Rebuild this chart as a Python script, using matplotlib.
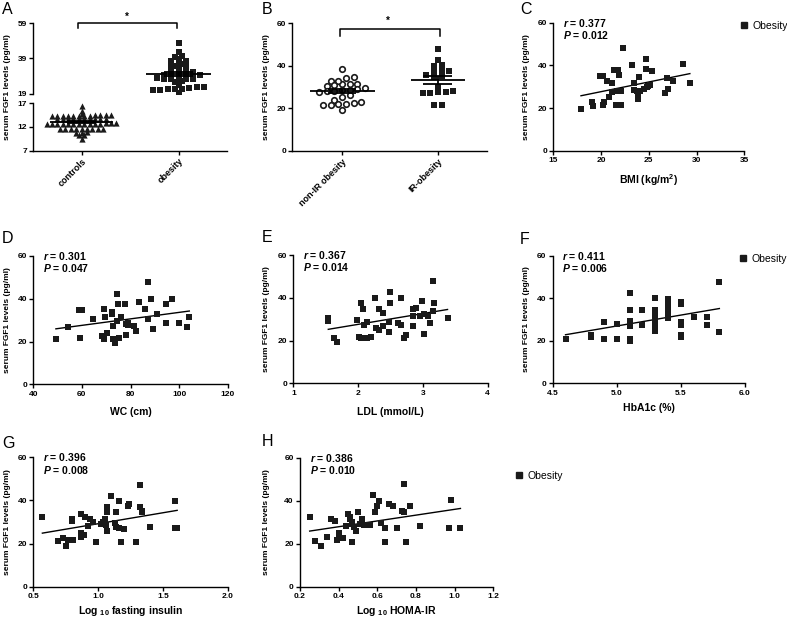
import numpy as np
import matplotlib
matplotlib.use('Agg')
import matplotlib.pyplot as plt
from matplotlib.lines import Line2D

plt.rcParams['font.family'] = 'Liberation Sans'
plt.rcParams['font.weight'] = 'bold'
plt.rcParams['axes.labelweight'] = 'bold'
plt.rcParams['mathtext.fontset'] = 'custom'
plt.rcParams['mathtext.rm'] = 'Liberation Sans:bold'
plt.rcParams['mathtext.it'] = 'Liberation Sans:italic:bold'
plt.rcParams['mathtext.bf'] = 'Liberation Sans:bold'

W, H = 787, 619

# ---- data ----
controls = [16.4, 15.4, 14.8,
            14.4, 14.5, 14.3, 14.4, 14.6, 14.3, 14.5, 14.3, 14.4, 14.5, 14.4, 14.3,
            13.6, 13.7, 13.6, 13.65, 13.6, 13.7, 13.6, 13.65, 13.6, 13.7,
            12.7, 12.6, 12.8, 12.7, 12.6, 12.7, 12.8, 12.6, 12.7, 12.6, 12.8, 12.7, 12.6, 12.7,
            11.6, 11.5, 11.6, 11.55, 11.6, 11.5, 11.6, 11.55, 11.6,
            10.8, 10.9, 10.7,
            10.2, 10.3,
            9.5]

non_ir = [38.6, 34.1, 32.8, 31.4, 31.4, 31.6, 32.8, 34.7, 30.8, 30.5, 28.9, 28.6, 28.1,
          28.1, 28.8, 29.4, 26.3, 27.5, 25.5, 23.9, 22.1, 21.6, 22.8, 21.9, 21.6, 22.7, 19.4]
ir = [48.0, 42.5, 40.3, 40.0, 37.7, 37.7, 37.7, 35.6, 34.7, 35.0, 29.9, 27.5, 27.4,
      27.1, 27.5, 28.1, 21.3, 21.3]
obesity = non_ir + ir

bmi_x = [17.9, 19.1, 19.2, 19.9, 20.2, 20.2, 20.3, 20.6, 21.1, 20.8, 21.1, 21.4, 21.8, 21.9,
         21.6, 21.8, 22.1, 21.7, 22.1, 22.3, 23.2, 23.4, 23.5, 23.8, 23.9, 23.9, 24.0, 24.1,
         24.5, 24.7, 24.7, 24.9, 24.8, 25.1, 25.3, 26.7, 27.0, 26.9, 27.5, 28.6, 29.3]
bmi_y = [19.4, 22.7, 21.1, 35.0, 35.0, 21.3, 23.0, 32.8, 31.6, 25.3, 27.7, 37.8, 37.8, 35.6,
         21.4, 21.4, 21.4, 28.1, 28.1, 48.0, 40.2, 31.6, 28.4, 28.0, 24.1, 26.9, 34.7, 28.1,
         28.8, 38.4, 42.8, 30.3, 29.7, 30.8, 37.5, 27.2, 28.8, 33.9, 32.8, 40.5, 31.9]

wc_x = [49.3, 54.1, 58.9, 59.9, 59.1, 64.7, 69.2, 69.5, 68.3, 69.2, 70.5, 72.2, 72.2, 72.7,
        72.7, 73.6, 74.6, 74.6, 75.0, 75.4, 75.9, 77.9, 78.1, 78.1, 78.8, 79.1, 81.4, 82.1,
        83.6, 85.8, 87.3, 87.3, 88.4, 89.1, 90.8, 94.5, 94.5, 96.9, 100.0, 103.4, 104.2]
wc_y = [21.2, 27.0, 34.7, 34.7, 21.8, 30.5, 35.2, 31.3, 22.4, 21.2, 23.8, 33.7, 32.7, 27.4,
        21.2, 19.2, 29.8, 42.2, 37.6, 21.8, 31.3, 37.4, 23.1, 28.2, 27.6, 28.5, 27.4, 25.1,
        38.3, 35.2, 47.7, 30.5, 39.9, 25.9, 32.9, 37.4, 28.5, 39.9, 28.5, 27.0, 31.6]

ldl_x = [1.54, 1.54, 1.63, 1.68, 1.99, 2.01, 2.04, 2.05, 2.08, 2.09, 2.13, 2.13, 2.20, 2.26,
         2.28, 2.32, 2.33, 2.38, 2.38, 2.49, 2.49, 2.48, 2.48, 2.66, 2.62, 2.66, 2.71, 2.74,
         2.84, 2.84, 2.85, 2.90, 2.95, 2.98, 3.01, 3.01, 3.08, 3.11, 3.15, 3.15, 3.17, 3.38]
ldl_y = [30.4, 29.3, 21.0, 19.2, 29.6, 21.5, 37.4, 21.0, 34.8, 27.3, 28.5, 21.0, 21.8, 40.1,
         26.0, 34.8, 24.9, 27.0, 32.7, 42.5, 37.4, 28.5, 23.9, 40.1, 28.1, 27.3, 21.0, 22.6,
         27.0, 34.8, 31.3, 35.4, 31.3, 38.5, 32.4, 22.9, 31.5, 28.1, 47.8, 33.8, 37.7, 30.4]

hba1c_x = [4.6, 4.8, 4.8, 4.9, 4.9, 5.0, 5.0, 5.1, 5.1, 5.1, 5.1, 5.1, 5.1, 5.1, 5.2, 5.2,
           5.3, 5.3, 5.3, 5.3, 5.3, 5.3, 5.3, 5.3, 5.3, 5.3, 5.4, 5.4, 5.4, 5.4, 5.4, 5.4,
           5.5, 5.5, 5.5, 5.5, 5.5, 5.5, 5.6, 5.7, 5.7, 5.8, 5.8]
hba1c_y = [20.8, 22.9, 21.8, 28.6, 21.0, 28.0, 21.0, 42.3, 34.7, 29.5, 28.5, 27.0, 21.0, 19.7,
           34.7, 27.3, 40.2, 34.7, 33.0, 31.6, 30.5, 29.4, 28.3, 27.3, 25.8, 24.8, 39.8, 37.5,
           36.0, 34.5, 32.0, 30.9, 38.3, 37.5, 28.6, 27.3, 22.6, 21.8, 31.4, 31.1, 27.3, 47.8, 24.0]

ins_x = [0.57, 0.69, 0.73, 0.75, 0.77, 0.80, 0.80, 0.81, 0.87, 0.87, 0.87, 0.89, 0.90, 0.92,
         0.94, 0.96, 0.98, 1.02, 1.04, 1.05, 1.06, 1.07, 1.07, 1.07, 1.10, 1.13, 1.14, 1.14,
         1.16, 1.16, 1.18, 1.20, 1.23, 1.24, 1.29, 1.32, 1.32, 1.34, 1.34, 1.40, 1.59, 1.59, 1.61]
ins_y = [32.5, 21.2, 22.7, 19.0, 21.7, 31.4, 30.5, 21.7, 33.6, 24.8, 22.9, 23.9, 32.5, 28.2,
         31.2, 30.2, 20.9, 29.1, 30.2, 31.4, 28.6, 34.5, 37.1, 25.8, 42.1, 29.4, 34.5, 27.8,
         39.7, 27.1, 20.9, 26.8, 37.4, 38.2, 20.9, 47.2, 37.1, 35.1, 34.5, 27.8, 39.7, 27.1, 27.1]

homa_x = [0.25, 0.28, 0.31, 0.34, 0.36, 0.38, 0.39, 0.40, 0.40, 0.41, 0.42, 0.44, 0.45, 0.46,
          0.46, 0.47, 0.47, 0.47, 0.48, 0.49, 0.50, 0.51, 0.52, 0.53, 0.56, 0.58, 0.59, 0.60,
          0.61, 0.62, 0.64, 0.64, 0.66, 0.68, 0.70, 0.73, 0.74, 0.74, 0.75, 0.77, 0.82, 0.98,
          0.97, 1.03]
homa_y = [32.6, 21.2, 19.1, 22.9, 31.5, 30.7, 21.7, 24.8, 23.6, 22.5, 22.8, 28.2, 33.6, 32.6,
          31.3, 30.2, 29.2, 20.9, 27.9, 26.1, 34.6, 29.2, 31.5, 28.7, 28.7, 42.6, 34.6, 37.5,
          40.0, 29.5, 27.5, 20.9, 38.3, 37.5, 27.1, 35.4, 34.9, 47.8, 20.9, 37.5, 28.2, 40.3,
          27.5, 27.5]

stats = {'C': ('0.377', '0.012'), 'D': ('0.301', '0.047'), 'E': ('0.367', '0.014'),
         'F': ('0.411', '0.006'), 'G': ('0.396', '0.008'), 'H': ('0.386', '0.010')}

INK = '#1a1a1a'
fig = plt.figure(figsize=(W / 100, H / 100), dpi=100)


def rect(l, r, t, b):
    return [l / W, 1 - b / H, (r - l) / W, (b - t) / H]


def style(ax):
    ax.spines['top'].set_visible(False)
    ax.spines['right'].set_visible(False)
    for s in ['left', 'bottom']:
        ax.spines[s].set_linewidth(1.0)
    ax.tick_params(direction='out', length=3, width=1, labelsize=6, pad=1.5)


def swarm(vals, w, dx):
    # rows of points side by side, like a scatter dot plot
    vals = np.asarray(vals, dtype=float)
    keys = np.round(vals / w).astype(int)
    offs = np.zeros(len(vals))
    for k in np.unique(keys):
        idx = np.where(keys == k)[0]
        idx = idx[np.argsort(vals[idx])]
        n = len(idx)
        offs[idx] = (np.arange(n) - (n - 1) / 2) * dx
    return offs


def mean_sem(ax, x0, vals, half=0.32, cap=0.15):
    v = np.asarray(vals)
    m = v.mean()
    se = v.std(ddof=1) / np.sqrt(len(v))
    ax.hlines(m, x0 - half, x0 + half, color='black', lw=1.3, zorder=4)
    ax.vlines(x0, m - se, m + se, color='black', lw=1.3, zorder=4)
    ax.hlines([m - se, m + se], x0 - cap, x0 + cap, color='black', lw=1.3, zorder=4)


def ylab(x, t, b):
    fig.text(x / W, 1 - (t + b) / 2 / H, 'serum FGF1 levels (pg/ml)', rotation=90,
             ha='center', va='center', fontsize=6)


def letter(x, y, s):
    fig.text(x / W, 1 - y / H, s, fontsize=11.5, fontweight='normal', ha='left', va='center')


def legend(ax, x, y):
    h = Line2D([], [], marker='s', ls='', color=INK, markersize=4.5)
    ax.legend([h], ['Obesity'], loc='center left', bbox_to_anchor=(x / W, 1 - y / H),
              bbox_transform=fig.transFigure, frameon=False, handletextpad=0.4,
              handlelength=0.8, borderpad=0, borderaxespad=0,
              prop={'size': 7.5, 'weight': 'normal'})


# ---- panel A (broken axis) ----
axA1 = fig.add_axes(rect(33, 227, 23.3, 93.7))
axA2 = fig.add_axes(rect(33, 227, 103.3, 150.5))
for ax in (axA1, axA2):
    style(ax)
    ax.set_xlim(-0.5, 1.5)
axA1.spines['bottom'].set_visible(False)
axA1.set_xticks([])
axA1.set_ylim(19, 59)
axA1.set_yticks([19, 39, 59])
axA2.set_ylim(7, 17)
axA2.set_yticks([7, 12, 17])
axA2.set_xticks([0, 1])
axA2.set_xticklabels(['controls', 'obesity'], rotation=45, ha='right', va='top',
                     rotation_mode='anchor', fontsize=6.5)

axA2.scatter(0 + swarm(controls, 0.6, 0.055), controls, marker='^', s=20, color=INK,
             lw=0, zorder=3)
axA1.scatter(1 + swarm(obesity, 1.7, 0.075), obesity, marker='s', s=22, color=INK,
             lw=0, zorder=3)
mean_sem(axA2, 0, controls)
mean_sem(axA1, 1, obesity, half=0.34)
axA1.plot([-0.04, -0.04, 0.98, 0.98], [56.2, 59, 59, 56.2], color='black', lw=1.1,
          clip_on=False)
axA1.text(0.47, 62.5, '*', ha='center', va='center', fontsize=7, clip_on=False)
ylab(8, 23, 151)
letter(2, 10, 'A')

# ---- panel B ----
axB = fig.add_axes(rect(292.3, 486.7, 23.3, 150.7))
style(axB)
axB.set_xlim(-0.52, 1.51)
axB.set_ylim(0, 60)
axB.set_yticks([0, 20, 40, 60])
axB.set_xticks([0, 1])
axB.set_xticklabels(['non-IR obesity', 'IR-obesity'], rotation=45, ha='right', va='top',
                    rotation_mode='anchor', fontsize=6.5)
axB.scatter(0 + swarm(non_ir, 2.8, 0.08), non_ir, marker='o', s=16, facecolor='white',
            edgecolor=INK, lw=1.2, zorder=3)
axB.scatter(1 + swarm(ir, 2.8, 0.08), ir, marker='s', s=22, color=INK, lw=0, zorder=3)
mean_sem(axB, 0, non_ir, half=0.34)
mean_sem(axB, 1, ir, half=0.28)
axB.plot([-0.02, -0.02, 1.02, 1.02], [54, 57.2, 57.2, 54], color='black', lw=1.1,
         clip_on=False)
axB.text(0.48, 61.2, '*', ha='center', va='center', fontsize=7, clip_on=False)
ylab(267, 23, 151)
letter(262, 10, 'B')


# ---- correlation panels ----
def corr_panel(box, x, y, xlim, xticks, fmt, xlabel, key, lab_off, ylab_x):
    l, r, t, b = box
    ax = fig.add_axes(rect(l, r, t, b))
    style(ax)
    ax.scatter(x, y, marker='s', s=20, color=INK, lw=0, zorder=3, clip_on=False)
    k, c = np.polyfit(x, y, 1)
    xx = np.array([min(x), max(x)])
    ax.plot(xx, k * xx + c, color='black', lw=1.0, zorder=2)
    ax.set_xlim(xlim)
    ax.set_ylim(0, 60)
    ax.set_yticks([0, 20, 40, 60])
    ax.set_xticks(xticks)
    ax.set_xticklabels([fmt.format(v) for v in xticks])
    ax.set_xlabel(xlabel, fontsize=7.5)
    ax.xaxis.set_label_coords(0.5, -lab_off / (b - t))
    ax.xaxis.label.set_va('center')
    rv, pv = stats[key]
    ax.text(0.05, 1.0, '$r$ = ' + rv, transform=ax.transAxes, fontsize=7.5, va='center')
    ax.text(0.05, 0.905, '$P$ = ' + pv, transform=ax.transAxes, fontsize=7.5, va='center')
    ylab(ylab_x, t, b)
    return ax


axC = corr_panel((553.3, 744.3, 22.7, 150.7), bmi_x, bmi_y, (15, 35), [15, 20, 25, 30, 35],
                 '{:g}', 'BMI (kg/m$^2$)', 'C', 29, 527)
legend(axC, 740, 25.7)
letter(520, 10, 'C')

axD = corr_panel((33.3, 227.7, 256, 384.3), wc_x, wc_y, (40, 120), [40, 60, 80, 100, 120],
                 '{:g}', 'WC (cm)', 'D', 28, 8)
letter(2, 239, 'D')

axE = corr_panel((293.3, 487.7, 255, 383.3), ldl_x, ldl_y, (1, 4), [1, 2, 3, 4],
                 '{:g}', 'LDL (mmol/L)', 'E', 29, 267)
letter(262, 238, 'E')

axF = corr_panel((552.7, 745, 255.7, 383.3), hba1c_x, hba1c_y, (4.5, 6.0),
                 [4.5, 5.0, 5.5, 6.0], '{:.1f}', 'HbA1c (%)', 'F', 25, 527)
legend(axF, 739, 259)
letter(520, 240, 'F')

axG = corr_panel((33.3, 227.7, 457.3, 586.7), ins_x, ins_y, (0.5, 2.0),
                 [0.5, 1.0, 1.5, 2.0], '{:.1f}', r'Log $_{10}$ fasting insulin', 'G', 24, 8)
letter(2, 444, 'G')

axH = corr_panel((300, 493.3, 457.7, 586.7), homa_x, homa_y, (0.2, 1.2),
                 [0.2, 0.4, 0.6, 0.8, 1.0, 1.2], '{:.1f}', r'Log $_{10}$ HOMA-IR', 'H', 24, 267)
legend(axH, 515, 476)
letter(262, 442, 'H')

fig.savefig('out.png', dpi=100)
